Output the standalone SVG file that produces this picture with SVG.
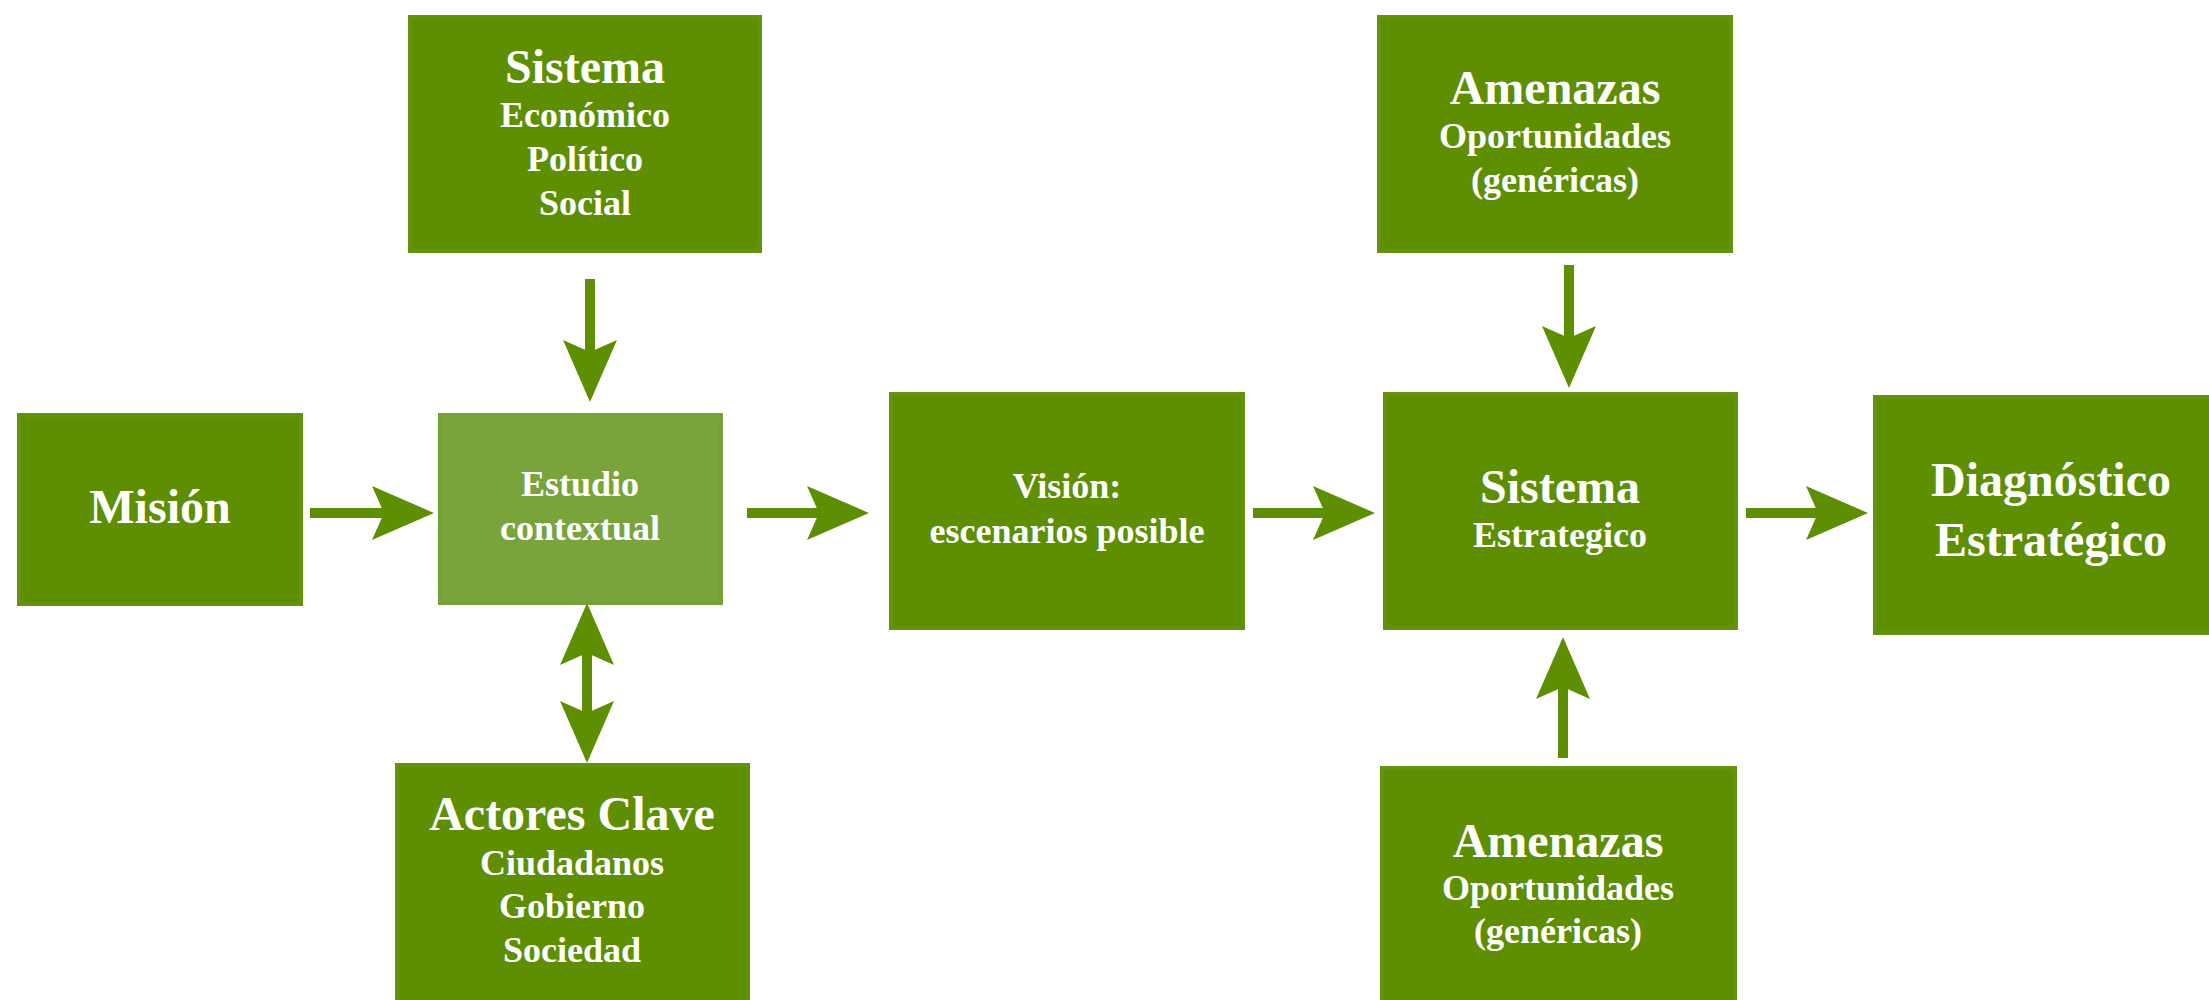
<svg xmlns="http://www.w3.org/2000/svg" width="2209" height="1000" viewBox="0 0 2209 1000">
  <style>
    .box { fill: #5E8F03; stroke: #63930C; stroke-width: 4; }
    .box-light { fill: #79A43B; stroke: #74A034; stroke-width: 4; }
    .t { font-family: "Liberation Serif", "Times New Roman", serif; font-weight: bold; fill: #FFFFFF; text-anchor: middle; }
    .big { font-size: 48px; }
    .small { font-size: 36px; }
    .conn { stroke: #5E8F03; stroke-width: 10; fill: none; }
  </style>
  <defs>
    <marker id="head" markerUnits="userSpaceOnUse" markerWidth="62" markerHeight="54" viewBox="0 0 62 54" refX="12" refY="27" orient="auto-start-reverse">
      <path d="M0,0 L62,27 L0,54 L12,27 Z" fill="#5E8F03"/>
    </marker>
  </defs>
  <rect x="0" y="0" width="2209" height="1000" fill="#FFFFFF"/>

  <g id="connectors">
    <line class="conn" x1="590" y1="279" x2="590" y2="352" marker-end="url(#head)"/>
    <line class="conn" x1="310" y1="513" x2="384" y2="513" marker-end="url(#head)"/>
    <line class="conn" x1="747" y1="513" x2="819" y2="513" marker-end="url(#head)"/>
    <line class="conn" x1="1253" y1="513" x2="1325" y2="513" marker-end="url(#head)"/>
    <line class="conn" x1="1746" y1="513" x2="1818" y2="513" marker-end="url(#head)"/>
    <line class="conn" x1="1569" y1="265" x2="1569" y2="338" marker-end="url(#head)"/>
    <line class="conn" x1="1563" y1="758" x2="1563" y2="687" marker-end="url(#head)"/>
    <line class="conn" x1="587" y1="653" x2="587" y2="713" marker-start="url(#head)" marker-end="url(#head)"/>
  </g>

  <g id="sistema">
    <rect class="box" x="410" y="17" width="350" height="234"/>
    <text class="t big" x="585" y="83">Sistema</text>
    <text class="t small" x="585" y="127">Económico</text>
    <text class="t small" x="585" y="171">Político</text>
    <text class="t small" x="585" y="215">Social</text>
  </g>

  <g id="mision">
    <rect class="box" x="19" y="415" width="282" height="189"/>
    <text class="t big" x="160" y="523">Misión</text>
  </g>

  <g id="estudio">
    <rect class="box-light" x="440" y="415" width="281" height="188"/>
    <text class="t small" x="580" y="496">Estudio</text>
    <text class="t small" x="580" y="540">contextual</text>
  </g>

  <g id="actores">
    <rect class="box" x="397" y="765" width="351" height="245"/>
    <text class="t big" x="572" y="830">Actores Clave</text>
    <text class="t small" x="572" y="875">Ciudadanos</text>
    <text class="t small" x="572" y="918">Gobierno</text>
    <text class="t small" x="572" y="962">Sociedad</text>
  </g>

  <g id="vision">
    <rect class="box" x="891" y="394" width="352" height="234"/>
    <text class="t small" x="1067" y="498">Visión:</text>
    <text class="t small" x="1067" y="543">escenarios posible</text>
  </g>

  <g id="amenazas-top">
    <rect class="box" x="1379" y="17" width="352" height="234"/>
    <text class="t big" x="1555" y="104">Amenazas</text>
    <text class="t small" x="1555" y="148">Oportunidades</text>
    <text class="t small" x="1555" y="192">(genéricas)</text>
  </g>

  <g id="sistema-estrategico">
    <rect class="box" x="1385" y="394" width="351" height="234"/>
    <text class="t big" x="1560" y="503">Sistema</text>
    <text class="t small" x="1560" y="547">Estrategico</text>
  </g>

  <g id="amenazas-bottom">
    <rect class="box" x="1382" y="768" width="353" height="242"/>
    <text class="t big" x="1558" y="857">Amenazas</text>
    <text class="t small" x="1558" y="900">Oportunidades</text>
    <text class="t small" x="1558" y="943">(genéricas)</text>
  </g>

  <g id="diagnostico">
    <rect class="box" x="1875" y="397" width="345" height="236"/>
    <text class="t big" x="2051" y="496">Diagnóstico</text>
    <text class="t big" x="2051" y="556">Estratégico</text>
  </g>
</svg>
